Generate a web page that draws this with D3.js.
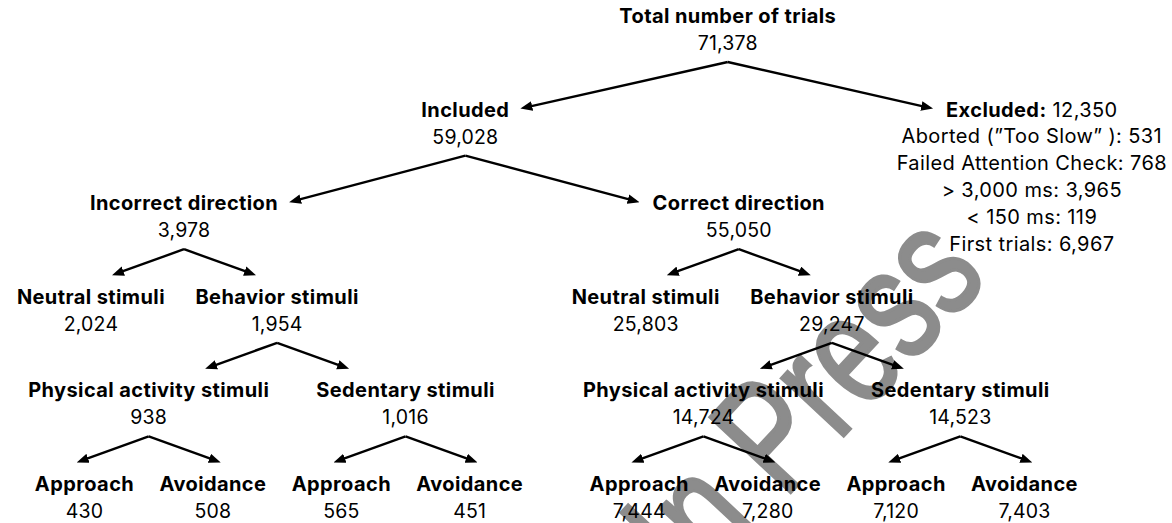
<!DOCTYPE html>
<html>
<head>
<meta charset="utf-8">
<script src="https://cdn.jsdelivr.net/npm/d3@7"></script>
<style>
  body { margin: 0; background: #fff; }
  svg { display: block; }
  .lbl { font-family: Inter, "Noto Sans", sans-serif; fill: #000; }
</style>
</head>
<body>
<div id="flow"></div>
<script>

// tree of trials: ids, parent ids, labels and counts
var nodeIds = ["total", "included", "excluded",
  "incorrect", "correct",
  "incNeutral", "incBehavior", "incPA", "incSed",
  "incPAApp", "incPAAvo", "incSedApp", "incSedAvo",
  "corNeutral", "corBehavior", "corPA", "corSed",
  "corPAApp", "corPAAvo", "corSedApp", "corSedAvo"];
var nodeParents = [null, "total", "total",
  "included", "included",
  "incorrect", "incorrect", "incBehavior", "incBehavior",
  "incPA", "incPA", "incSed", "incSed",
  "correct", "correct", "corBehavior", "corBehavior",
  "corPA", "corPA", "corSed", "corSed"];
var nodeLabels = ["Total number of trials", "Included", "Excluded:",
  "Incorrect direction", "Correct direction",
  "Neutral stimuli", "Behavior stimuli", "Physical activity stimuli", "Sedentary stimuli",
  "Approach", "Avoidance", "Approach", "Avoidance",
  "Neutral stimuli", "Behavior stimuli", "Physical activity stimuli", "Sedentary stimuli",
  "Approach", "Avoidance", "Approach", "Avoidance"];
var nodeCounts = [71378, 59028, 12350,
  3978, 55050,
  2024, 1954, 938, 1016,
  430, 508, 565, 451,
  25803, 29247, 14724, 14523,
  7444, 7280, 7120, 7403];

// reasons for exclusion
var excludedReasons = ["Aborted (\u201DToo Slow\u201D )", "Failed Attention Check", "> 3,000 ms", "< 150 ms", "First trials"];
var excludedCounts = [531, 768, 3965, 119, 6967];

var width = 1172
var height = 523
var labelSize = 20      // bold labels and excluded lines
var numSize = 19.5      // counts under the labels
var spacing = "0.4px"
var numGap = 27      // label baseline -> number baseline
var lineGap = 26.8   // line spacing in the excluded box
var fmt = d3.format(",");

var svg = d3.select("#flow")
  .append("svg")
    .attr("width", width)
    .attr("height", height);

// watermark (narrow letters, runs off the bottom edge)
svg.append("text")
  .attr("transform", "translate(694,596) rotate(-47) scale(0.74,1)")
  .style("font-family", "'Liberation Sans', Arial, sans-serif")
  .style("font-size", "160px")
  .style("fill", "#8c8c8c")
  .style("stroke", "#8c8c8c")
  .style("stroke-width", 3.5)
  .text("In Press");

svg.append("defs").append("marker")
    .attr("id", "head")
    .attr("viewBox", "0 -5 12 10")
    .attr("refX", 4)
    .attr("refY", 0)
    .attr("markerWidth", 12)
    .attr("markerHeight", 10)
    .attr("markerUnits", "userSpaceOnUse")
    .attr("orient", "auto")
  .append("path")
    .attr("d", "M0,-4.8L12,0L0,4.8Z")
    .attr("fill", "#000");

var rows = nodeIds.map(function(id, i) {
  return { id: id, parent: nodeParents[i], label: nodeLabels[i], count: nodeCounts[i] };
});
var root = d3.stratify()
  .id(function(d) { return d.id; })
  .parentId(function(d) { return d.parent; })(rows);

var included = root.find(function(d) { return d.id === "included"; });
var excluded = root.find(function(d) { return d.id === "excluded"; });

function branch(n) { return n.ancestors().find(function(a) { return a.depth === 2; }); }

// layout of the included part
d3.tree()
  .nodeSize([1, 1])
  .separation(function(a, b) {
    if (a.parent === b.parent) return (!a.children) === (!b.children) ? 1 : 1.45;
    return branch(a) === branch(b) ? 1 : 1.32;
  })(included);

var maxDepth = d3.max(included.leaves(), function(d) { return d.depth; });
var deepest = included.leaves().filter(function(d) { return d.depth === maxDepth; });

var x = d3.scaleLinear()
  .domain(d3.extent(deepest, function(d) { return d.x; }))
  .range([84.5, 1024.5]);
var y = d3.scaleLinear()
  .domain([0, maxDepth])
  .range([23, 491]);

included.each(function(d) { d.px = x(d.x); });

var layer = svg.append("g");

function drawNode(d) {
  var g = layer.append("g").attr("transform", "translate(" + d.px + "," + y(d.depth) + ")");
  g.append("text").attr("class", "lbl")
    .attr("text-anchor", "middle")
    .style("font-size", labelSize + "px")
    .style("letter-spacing", spacing)
    .style("font-weight", 700)
    .text(d.data.label);
  g.append("text").attr("class", "lbl")
    .attr("text-anchor", "middle")
    .attr("y", numGap)
    .style("font-size", numSize + "px")
    .style("letter-spacing", "0.2px")
    .text(fmt(d.data.count));
  var b = g.node().getBBox();
  d.left = d.px + b.x;
  d.right = d.px + b.x + b.width;
}

included.descendants().filter(function(d) { return d !== included; }).forEach(drawNode);

// excluded box, right aligned
var exLines = [null].concat(excludedReasons.map(function(r, i) { return r + ": " + fmt(excludedCounts[i]); }));
var exG = layer.append("g");
var exText = exG.selectAll("text")
  .data(exLines)
  .join("text")
    .attr("class", "lbl")
    .attr("text-anchor", "middle")
    .attr("y", function(d, i) { return i * lineGap; })
    .style("font-size", labelSize + "px")
    .style("letter-spacing", spacing);
exText.filter(function(d, i) { return i === 0; })
  .call(function(t) {
    t.append("tspan").style("font-weight", 700).text(excluded.data.label);
    t.append("tspan").text(" " + fmt(excluded.data.count));
  });
exText.filter(function(d, i) { return i > 0; }).text(function(d) { return d; });
var exW = d3.max(exText.nodes(), function(n) { return n.getComputedTextLength(); });
excluded.px = width - 5 - exW / 2;
exG.attr("transform", "translate(" + excluded.px + "," + y(1) + ")");
var firstW = exText.node().getComputedTextLength();
excluded.left = excluded.px - firstW / 2;
excluded.right = excluded.px + firstW / 2;

// parents of side-by-side children sit between their inner edges
var incl = included.children;
included.px = (incl[0].right + incl[1].left) / 2;
drawNode(included);
root.px = (included.right + excluded.left) / 2;
drawNode(root);

// arrows
var arrows = root.links().map(function(l) {
  var p = l.source, c = l.target;
  var sx = p.px, sy = y(p.depth) + numGap + 12;
  var tx, ty;
  if (c.depth <= 2) {
    tx = c.px < p.px ? c.right + 11 : c.left - 13;
    ty = y(c.depth) - 8;
  } else {
    tx = p.px + (c.px < p.px ? -72 : 72);
    ty = sy + 26;
  }
  var len = Math.hypot(tx - sx, ty - sy);
  var k = (len - 8) / len;
  return [[sx, sy], [sx + (tx - sx) * k, sy + (ty - sy) * k]];
});

svg.append("g").selectAll("path")
  .data(arrows)
  .join("path")
    .attr("d", d3.line())
    .attr("fill", "none")
    .attr("stroke", "#000")
    .attr("stroke-width", 2.4)
    .attr("marker-end", "url(#head)");

</script>
</body>
</html>
